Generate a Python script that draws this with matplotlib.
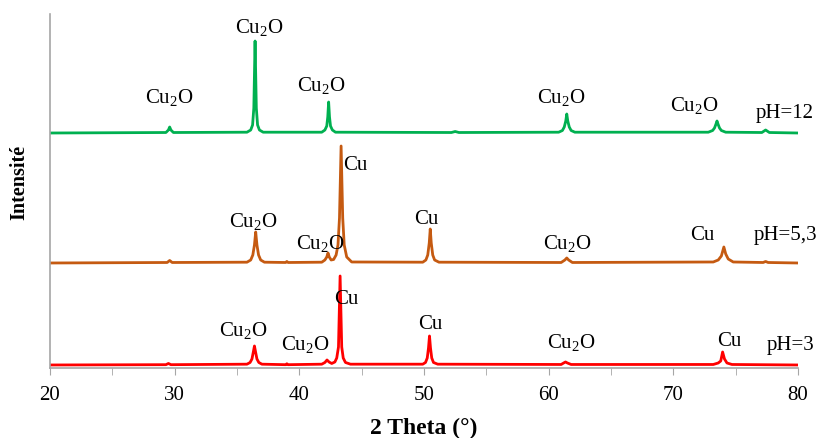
import matplotlib.pyplot as plt
from matplotlib.ticker import MultipleLocator

# XRD patterns (2 theta in degrees, intensity in arbitrary units)
ph12_x = [20, 29.3, 29.5, 29.6, 29.7, 29.9,
          35.8, 36.1, 36.25, 36.35, 36.45, 36.55, 36.65, 36.8, 37.1,
          41.8, 42.05, 42.2, 42.28, 42.35, 42.42, 42.5, 42.65, 42.9,
          52.2, 52.5, 52.8,
          60.8, 61.1, 61.25, 61.37, 61.45, 61.53, 61.65, 61.8, 62.1,
          72.8, 73.15, 73.3, 73.42, 73.5, 73.58, 73.7, 73.85, 74.2,
          77.1, 77.4, 77.7, 80]
ph12_y = [0, 0.5, 3, 6, 3, 0.5,
          0.8, 3, 8, 25, 92, 25, 8, 3, 0.8,
          0.8, 3, 7, 16, 31, 16, 7, 3, 0.8,
          0.5, 1.5, 0.5,
          0.8, 2.5, 6, 12, 19, 12, 6, 2.5, 0.8,
          0.8, 2.5, 5, 9, 12, 9, 5, 2.5, 0.8,
          0.5, 3, 0.5, 0]

ph53_x = [20, 29.4, 29.6, 29.8,
          35.8, 36.1, 36.27, 36.4, 36.5, 36.6, 36.73, 36.9, 37.2,
          38.9, 39.0, 39.1,
          41.8, 42.05, 42.2, 42.3, 42.4, 42.55, 42.75, 42.95, 43.1, 43.22, 43.35, 43.48, 43.6, 43.8, 44.2,
          49.9, 50.15, 50.3, 50.42, 50.5, 50.58, 50.7, 50.85, 51.2,
          61.0, 61.3, 61.45, 61.6, 61.9,
          73.2, 73.6, 73.85, 74.05, 74.2, 74.4, 74.8,
          77.2, 77.4, 77.6, 80]
ph53_y = [0, 0.5, 2.5, 0.5,
          0.8, 3, 8, 18, 31, 18, 8, 3, 0.8,
          0.5, 1.5, 0.5,
          0.8, 3, 6, 10, 6, 3, 3.5, 8, 18, 45, 117, 45, 18, 6, 1,
          0.8, 3, 8, 20, 34, 20, 8, 3, 0.8,
          0.5, 3, 5, 3, 0.5,
          1, 3, 7, 16, 9, 4, 1,
          0.5, 1.5, 0.5, 0]

ph3_x = [20, 29.3, 29.5, 29.7,
         35.8, 36.05, 36.2, 36.31, 36.4, 36.49, 36.6, 36.75, 37.0,
         38.9, 39.0, 39.1,
         41.8, 42.05, 42.22, 42.38, 42.6, 42.85, 43.0, 43.14, 43.27, 43.4, 43.52, 43.7, 44.1,
         49.9, 50.12, 50.26, 50.36, 50.44, 50.52, 50.62, 50.76, 51.1,
         61.0, 61.2, 61.35, 61.5, 61.8,
         73.2, 73.6, 73.8, 73.95, 74.1, 74.3, 74.7,
         80]
ph3_y = [0, 0.3, 1.5, 0.3,
         0.8, 2.5, 6, 13, 19, 13, 6, 2.5, 0.8,
         0.3, 1.2, 0.3,
         0.8, 2.5, 5, 3, 1.5, 3, 7, 18, 89, 18, 7, 2.5, 0.8,
         0.8, 2.5, 7, 17, 29, 17, 7, 2.5, 0.8,
         0.5, 2, 3, 2, 0.5,
         0.5, 2, 4, 13, 6, 2, 0.5,
         0]

# vertical offsets used to stack the patterns
offsets = {'pH=12': 235, 'pH=5,3': 105, 'pH=3': 3}

# peak labels: (x, y, text)
ph12_labels = [(29.6, 272, 'Cu$_2$O'), (36.8, 342, 'Cu$_2$O'), (41.8, 284, 'Cu$_2$O'),
               (61.0, 272, 'Cu$_2$O'), (71.7, 264, 'Cu$_2$O'), (78.9, 256, 'pH=12')]
ph53_labels = [(44.5, 203, 'Cu'), (36.3, 147, 'Cu$_2$O'), (41.7, 125, 'Cu$_2$O'),
               (50.2, 149, 'Cu'), (61.5, 125, 'Cu$_2$O'), (72.3, 133, 'Cu'),
               (79.0, 133, 'pH=5,3')]
ph3_labels = [(43.8, 69, 'Cu'), (35.5, 38, 'Cu$_2$O'), (40.5, 24, 'Cu$_2$O'),
              (50.5, 44, 'Cu'), (61.8, 26, 'Cu$_2$O'), (74.5, 27, 'Cu'),
              (79.4, 23, 'pH=3')]

plt.rcParams['font.family'] = ['Liberation Serif', 'DejaVu Serif']
plt.rcParams['mathtext.fontset'] = 'custom'
plt.rcParams['mathtext.rm'] = 'Liberation Serif'
plt.rcParams['mathtext.it'] = 'Liberation Serif:italic'
plt.rcParams['mathtext.bf'] = 'Liberation Serif:bold'

fig = plt.figure(figsize=(8.18, 4.39), dpi=100)
ax = fig.add_axes([0.0611, 0.1595, 0.9145, 0.8063])

traces = [
    (ph12_x, ph12_y, 'pH=12', '#00B050', ph12_labels),
    (ph53_x, ph53_y, 'pH=5,3', '#C55A11', ph53_labels),
    (ph3_x, ph3_y, 'pH=3', '#FF0000', ph3_labels),
]
for xs, ys, name, color, labels in traces:
    off = offsets[name]
    ax.plot(xs, [v + off for v in ys], color=color, linewidth=2.0, solid_joinstyle='round')
    for lx, ly, txt in labels:
        ax.text(lx, ly, txt, ha='center', va='center', fontsize=15, color='black')

ax.set_xlim(20, 80)
ax.set_ylim(0, 354)
ax.xaxis.set_major_locator(MultipleLocator(10))
ax.xaxis.set_minor_locator(MultipleLocator(5))
ax.tick_params(axis='x', which='both', direction='out', length=5, color='#A6A6A6',
               labelsize=15, pad=7)
ax.set_yticks([])

for side in ['top', 'right']:
    ax.spines[side].set_visible(False)
for side in ['left', 'bottom']:
    ax.spines[side].set_color('#A6A6A6')
    ax.spines[side].set_linewidth(1.2)

ax.set_xlabel('2 Theta (°)', fontsize=17, fontweight='bold')
ax.xaxis.set_label_coords(0.5, -0.137)
ax.set_ylabel('Intensité', fontsize=14.5, fontweight='bold')
ax.yaxis.set_label_coords(-0.028, 0.528)

fig.savefig('out.png', dpi=100)
